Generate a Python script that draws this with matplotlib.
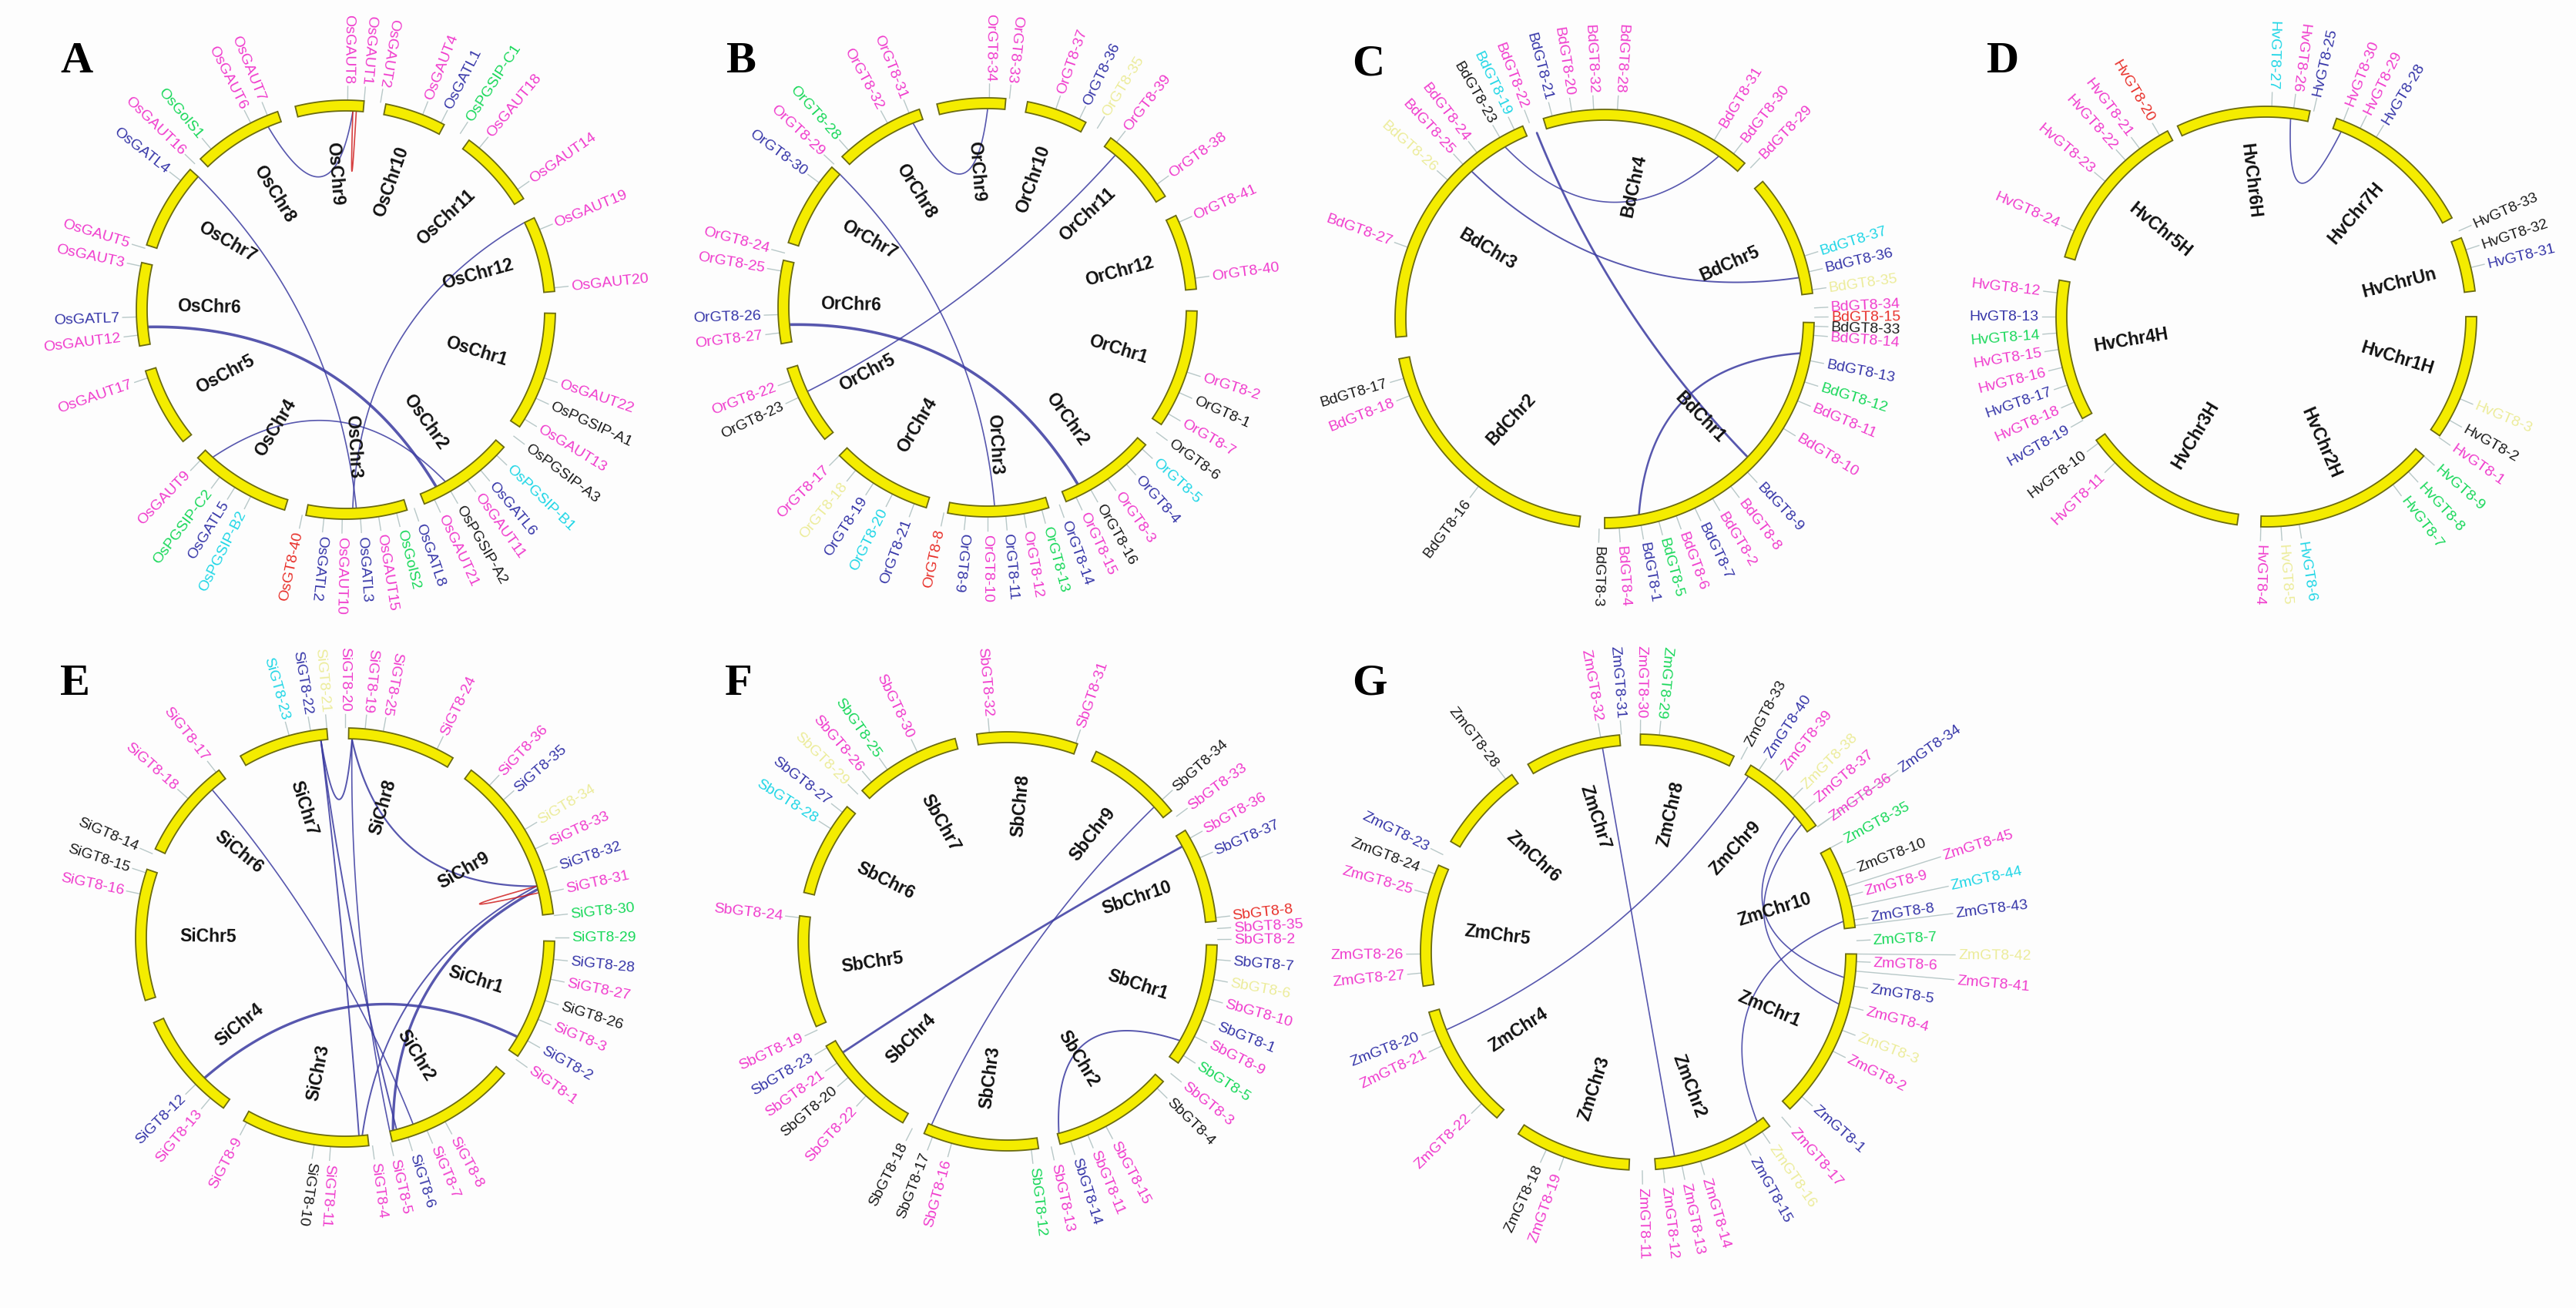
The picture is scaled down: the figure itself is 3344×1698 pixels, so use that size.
import numpy as np
import matplotlib.pyplot as plt

# colours of the gene groups
COL = {'p': '#f03ccd', 'b': '#3535a8', 'g': '#19d85a', 'c': '#1fd6e6',
       'k': '#1a1a1a', 'r': '#e8302a', 'y': '#ecec9a'}

# ---------------- A: rice (Os) ----------------
A_chroms = [('OsChr9', -14, 5), ('OsChr10', 11, 28), ('OsChr11', 36, 58), ('OsChr12', 64, 85),
            ('OsChr1', 91, 124), ('OsChr2', 131, 158), ('OsChr3', 163, 191), ('OsChr4', 197, 225),
            ('OsChr5', 231, 253), ('OsChr6', 260, 283), ('OsChr7', 288, 312), ('OsChr8', 316, 341)]
A_genes = [('OsGAUT8', 0.5, 'p'), ('OsGAUT1', 5, 'p'), ('OsGAUT2', 9.5, 'p'), ('OsGAUT4', 21.5, 'p'),
           ('OsGATL1', 27, 'b'), ('OsPGSIP-C1', 33, 'g'), ('OsGAUT18', 39.5, 'p'), ('OsGAUT14', 55, 'p'),
           ('OsGAUT19', 67.5, 'p'), ('OsGAUT20', 84, 'p'), ('OsGAUT22', 109, 'p'), ('OsPGSIP-A1', 115, 'k'),
           ('OsGAUT13', 121.5, 'p'), ('OsPGSIP-A3', 127, 'k'), ('OsPGSIP-B1', 134, 'c'), ('OsGATL6', 140, 'b'),
           ('OsGAUT11', 144.5, 'p'), ('OsPGSIP-A2', 150, 'k'), ('OsGAUT21', 155, 'p'), ('OsGATL8', 161, 'b'),
           ('OsGolS2', 166, 'g'), ('OsGAUT15', 171, 'p'), ('OsGATL3', 176, 'b'), ('OsGAUT10', 181, 'p'),
           ('OsGATL2', 186, 'b'), ('OsGT8-40', 192, 'r'), ('OsPGSIP-B2', 207, 'c'), ('OsGATL5', 212, 'b'),
           ('OsPGSIP-C2', 217, 'g'), ('OsGAUT9', 224, 'p'), ('OsGAUT17', 251, 'p'), ('OsGAUT12', 263, 'p'),
           ('OsGATL7', 268, 'b'), ('OsGAUT3', 282, 'p'), ('OsGAUT5', 287, 'p'), ('OsGATL4', 308, 'b'),
           ('OsGAUT16', 314, 'p'), ('OsGolS1', 320, 'g'), ('OsGAUT6', 333, 'p'), ('OsGAUT7', 338, 'p')]
A_links = [(337, 2, 'b', 1.2), (2, 3, 'r', 1.2), (312, 177, 'b', 1.2), (265, 153, 'b', 2.6),
           (64, 178, 'b', 1.2), (222, 150, 'b', 1.2)]

# ---------------- B: Or ----------------
B_chroms = [('OrChr9', -14, 5), ('OrChr10', 11, 28), ('OrChr11', 36, 58), ('OrChr12', 64, 85),
            ('OrChr1', 91, 124), ('OrChr2', 131, 158), ('OrChr3', 163, 191), ('OrChr4', 197, 225),
            ('OrChr5', 231, 253), ('OrChr6', 260, 283), ('OrChr7', 288, 312), ('OrChr8', 316, 341)]
B_genes = [('OrGT8-34', 0.5, 'p'), ('OrGT8-33', 6, 'p'), ('OrGT8-37', 19, 'p'), ('OrGT8-36', 26, 'b'),
           ('OrGT8-35', 31.5, 'y'), ('OrGT8-39', 38, 'p'), ('OrGT8-38', 54, 'p'), ('OrGT8-41', 66, 'p'),
           ('OrGT8-40', 82, 'p'), ('OrGT8-2', 108, 'p'), ('OrGT8-1', 114, 'k'), ('OrGT8-7', 120.5, 'p'),
           ('OrGT8-6', 126.5, 'k'), ('OrGT8-5', 132.5, 'c'), ('OrGT8-4', 138.5, 'b'), ('OrGT8-3', 145, 'p'),
           ('OrGT8-16', 150.5, 'k'), ('OrGT8-15', 155, 'p'), ('OrGT8-14', 160, 'b'), ('OrGT8-13', 165, 'g'),
           ('OrGT8-12', 170, 'p'), ('OrGT8-11', 175, 'b'), ('OrGT8-10', 180, 'p'), ('OrGT8-9', 186, 'b'),
           ('OrGT8-8', 192, 'r'), ('OrGT8-21', 200.5, 'b'), ('OrGT8-20', 207, 'c'), ('OrGT8-19', 213, 'b'),
           ('OrGT8-18', 219, 'y'), ('OrGT8-17', 225, 'p'), ('OrGT8-23', 244.5, 'k'), ('OrGT8-22', 249.5, 'p'),
           ('OrGT8-27', 263, 'p'), ('OrGT8-26', 268, 'b'), ('OrGT8-25', 280, 'p'), ('OrGT8-24', 285, 'p'),
           ('OrGT8-30', 306.5, 'b'), ('OrGT8-29', 313, 'p'), ('OrGT8-28', 318.5, 'g'), ('OrGT8-32', 331.5, 'p'),
           ('OrGT8-31', 338, 'p')]
B_links = [(338, 0, 'b', 1.2), (312, 178, 'b', 1.2), (265, 153, 'b', 2.6), (40, 245, 'b', 1.2)]

# ---------------- C: Bd ----------------
C_chroms = [('BdChr4', -17, 42), ('BdChr5', 49, 83), ('BdChr1', 91, 180), ('BdChr2', 187, 259),
            ('BdChr3', 265, 337)]
C_genes = [('BdGT8-26', 311.5, 'y'), ('BdGT8-25', 317.5, 'p'), ('BdGT8-24', 322.5, 'p'), ('BdGT8-23', 330, 'k'),
           ('BdGT8-19', 334.5, 'c'), ('BdGT8-22', 339, 'p'), ('BdGT8-21', 345.5, 'b'), ('BdGT8-20', 351, 'p'),
           ('BdGT8-32', 357, 'p'), ('BdGT8-28', 3.5, 'p'), ('BdGT8-31', 31.5, 'p'), ('BdGT8-30', 38, 'p'),
           ('BdGT8-29', 44, 'p'), ('BdGT8-37', 72.5, 'c'), ('BdGT8-36', 77, 'b'), ('BdGT8-35', 82, 'y'),
           ('BdGT8-34', 87, 'p'), ('BdGT8-15', 89.5, 'r'), ('BdGT8-33', 92, 'k'), ('BdGT8-14', 94.5, 'p'),
           ('BdGT8-13', 101.5, 'b'), ('BdGT8-12', 107.5, 'g'), ('BdGT8-11', 113, 'p'), ('BdGT8-10', 121.5, 'p'),
           ('BdGT8-9', 137, 'b'), ('BdGT8-8', 143, 'p'), ('BdGT8-2', 149, 'p'), ('BdGT8-7', 154.5, 'b'),
           ('BdGT8-6', 160, 'p'), ('BdGT8-5', 165, 'g'), ('BdGT8-1', 170, 'b'), ('BdGT8-4', 176, 'p'),
           ('BdGT8-3', 181.5, 'k'), ('BdGT8-16', 217, 'k'), ('BdGT8-18', 248.5, 'p'), ('BdGT8-17', 253.5, 'k'),
           ('BdGT8-27', 290, 'p')]
C_links = [(340, 134, 'b', 2.0), (330, 35, 'b', 1.2), (318, 78, 'b', 1.4), (100, 170, 'b', 1.8)]

# ---------------- D: Hv ----------------
D_chroms = [('HvChr6H', -25, 12), ('HvChr7H', 19.5, 62), ('HvChrUn', 68, 83), ('HvChr1H', 90, 124.5),
            ('HvChr2H', 131.5, 181.5), ('HvChr3H', 188, 234), ('HvChr4H', 241, 280), ('HvChr5H', 286.5, 332)]
D_genes = [('HvGT8-27', 1.5, 'c'), ('HvGT8-26', 7.5, 'p'), ('HvGT8-25', 13, 'b'), ('HvGT8-30', 21.5, 'p'),
           ('HvGT8-29', 26.5, 'p'), ('HvGT8-28', 31.5, 'b'), ('HvGT8-33', 66, 'k'), ('HvGT8-32', 71.5, 'k'),
           ('HvGT8-31', 76.5, 'b'), ('HvGT8-3', 113, 'y'), ('HvGT8-2', 119.5, 'k'), ('HvGT8-1', 125, 'p'),
           ('HvGT8-9', 131.5, 'g'), ('HvGT8-8', 137.5, 'g'), ('HvGT8-7', 143, 'g'), ('HvGT8-6', 171, 'c'),
           ('HvGT8-5', 176, 'y'), ('HvGT8-4', 181.5, 'p'), ('HvGT8-11', 226, 'p'), ('HvGT8-10', 233, 'k'),
           ('HvGT8-19', 240.5, 'b'), ('HvGT8-18', 246, 'p'), ('HvGT8-17', 251, 'b'), ('HvGT8-16', 256, 'p'),
           ('HvGT8-15', 261, 'p'), ('HvGT8-14', 265.5, 'g'), ('HvGT8-13', 270, 'b'), ('HvGT8-12', 276.5, 'p'),
           ('HvGT8-24', 294, 'p'), ('HvGT8-23', 310, 'p'), ('HvGT8-22', 318, 'p'), ('HvGT8-21', 323, 'p'),
           ('HvGT8-20', 329.5, 'r')]
D_links = [(7, 22, 'b', 1.2)]

# ---------------- E: Si ----------------
E_chroms = [('SiChr7', 330, 355), ('SiChr8', 1, 31), ('SiChr9', 37, 83.5), ('SiChr1', 91, 124.5),
            ('SiChr2', 130.5, 167), ('SiChr3', 173.5, 209), ('SiChr4', 215.5, 246), ('SiChr5', 252.5, 289),
            ('SiChr6', 295, 323)]
E_genes = [('SiGT8-23', 344.5, 'c'), ('SiGT8-22', 350.5, 'b'), ('SiGT8-21', 355, 'y'), ('SiGT8-20', 0, 'p'),
           ('SiGT8-19', 5.5, 'p'), ('SiGT8-25', 10.5, 'p'), ('SiGT8-24', 26, 'p'), ('SiGT8-36', 43.5, 'p'),
           ('SiGT8-35', 49, 'b'), ('SiGT8-34', 59, 'y'), ('SiGT8-33', 65, 'p'), ('SiGT8-32', 71.5, 'b'),
           ('SiGT8-31', 77.5, 'p'), ('SiGT8-30', 84, 'g'), ('SiGT8-29', 90, 'g'), ('SiGT8-28', 96, 'b'),
           ('SiGT8-27', 101.5, 'p'), ('SiGT8-26', 107.5, 'k'), ('SiGT8-3', 113, 'p'), ('SiGT8-2', 119.5, 'b'),
           ('SiGT8-1', 125.5, 'p'), ('SiGT8-8', 151.5, 'p'), ('SiGT8-7', 157, 'p'), ('SiGT8-6', 162.5, 'b'),
           ('SiGT8-5', 167.5, 'p'), ('SiGT8-4', 172.5, 'p'), ('SiGT8-11', 184, 'p'), ('SiGT8-10', 188.5, 'k'),
           ('SiGT8-9', 208, 'p'), ('SiGT8-13', 220, 'p'), ('SiGT8-12', 225.5, 'b'), ('SiGT8-16', 282, 'p'),
           ('SiGT8-15', 288, 'k'), ('SiGT8-14', 293.5, 'k'), ('SiGT8-18', 311.5, 'p'), ('SiGT8-17', 322, 'p')]
E_links = [(318, 160, 'b', 1.2), (353, 176, 'b', 1.4), (353, 165, 'b', 1.4), (353, 2, 'b', 1.4),
           (2, 75, 'b', 1.6), (2, 167, 'b', 1.2), (75, 175, 'b', 1.4), (76, 166, 'b', 2.4),
           (225, 120, 'b', 2.4), (75, 77, 'r', 1.2)]

# ---------------- F: Sb ----------------
F_chroms = [('SbChr7', 316, 345.5), ('SbChr8', 351.5, 379.5), ('SbChr9', 25, 51.5), ('SbChr10', 58, 84.5),
            ('SbChr1', 91, 125.5), ('SbChr2', 132, 165.5), ('SbChr3', 171.5, 203.5), ('SbChr4', 210, 240),
            ('SbChr5', 246, 277), ('SbChr6', 283.5, 310)]
F_genes = [('SbGT8-28', 302.5, 'c'), ('SbGT8-27', 308, 'b'), ('SbGT8-29', 314.5, 'y'), ('SbGT8-26', 319.5, 'p'),
           ('SbGT8-25', 325, 'g'), ('SbGT8-30', 334.5, 'p'), ('SbGT8-32', 355, 'p'), ('SbGT8-31', 19, 'p'),
           ('SbGT8-34', 47.5, 'k'), ('SbGT8-33', 53.5, 'p'), ('SbGT8-36', 60.5, 'p'), ('SbGT8-37', 66.5, 'b'),
           ('SbGT8-8', 83.5, 'r'), ('SbGT8-35', 86.5, 'p'), ('SbGT8-2', 89.5, 'p'), ('SbGT8-7', 95, 'b'),
           ('SbGT8-6', 100.5, 'y'), ('SbGT8-10', 106, 'p'), ('SbGT8-1', 112, 'b'), ('SbGT8-9', 117, 'p'),
           ('SbGT8-5', 123, 'g'), ('SbGT8-3', 129, 'p'), ('SbGT8-4', 134.5, 'k'), ('SbGT8-15', 152, 'p'),
           ('SbGT8-11', 157.5, 'p'), ('SbGT8-14', 162.5, 'b'), ('SbGT8-13', 168, 'p'), ('SbGT8-12', 173.5, 'g'),
           ('SbGT8-16', 195.5, 'p'), ('SbGT8-17', 201, 'k'), ('SbGT8-18', 207, 'k'), ('SbGT8-22', 222.5, 'p'),
           ('SbGT8-20', 229.5, 'k'), ('SbGT8-21', 234.5, 'p'), ('SbGT8-23', 239.5, 'b'), ('SbGT8-19', 245, 'p'),
           ('SbGT8-24', 276.5, 'p')]
F_links = [(61.5, 236, 'b', 2.0), (47.5, 202.5, 'b', 1.2), (120, 165, 'b', 1.4)]

# ---------------- G: Zm ----------------
G_chroms = [('ZmChr8', 0.5, 26), ('ZmChr9', 31, 54.5), ('ZmChr10', 61.5, 83.5), ('ZmChr1', 90.5, 136),
            ('ZmChr2', 143, 175.5), ('ZmChr3', 182.5, 213.5), ('ZmChr4', 220.5, 254), ('ZmChr5', 261, 293.5),
            ('ZmChr6', 300.5, 324.5), ('ZmChr7', 329.5, 355)]
G_genes = [('ZmGT8-32', 350, 'p', 0), ('ZmGT8-31', 355.5, 'b', 0), ('ZmGT8-30', 0.5, 'p', 0),
           ('ZmGT8-29', 5.5, 'g', 0), ('ZmGT8-33', 28, 'k', 0), ('ZmGT8-40', 33.5, 'b', 0),
           ('ZmGT8-39', 38.5, 'p', 0), ('ZmGT8-38', 45, 'y', 0), ('ZmGT8-37', 49.5, 'p', 0),
           ('ZmGT8-36', 55, 'p', 0), ('ZmGT8-34', 55, 'b', 1), ('ZmGT8-35', 61.5, 'g', 0),
           ('ZmGT8-10', 69, 'k', 0), ('ZmGT8-45', 72.5, 'p', 1), ('ZmGT8-9', 75, 'p', 0),
           ('ZmGT8-44', 78, 'c', 1), ('ZmGT8-8', 81.5, 'b', 0), ('ZmGT8-43', 83, 'b', 1),
           ('ZmGT8-7', 87, 'g', 0), ('ZmGT8-42', 90.5, 'y', 1), ('ZmGT8-6', 92.5, 'p', 0),
           ('ZmGT8-41', 95, 'p', 1), ('ZmGT8-5', 99, 'b', 0), ('ZmGT8-4', 104.5, 'p', 0),
           ('ZmGT8-3', 111, 'y', 0), ('ZmGT8-2', 117, 'p', 0), ('ZmGT8-1', 131.5, 'b', 0),
           ('ZmGT8-17', 139, 'p', 0), ('ZmGT8-16', 145.5, 'y', 0), ('ZmGT8-15', 151, 'b', 0),
           ('ZmGT8-14', 163.5, 'p', 0), ('ZmGT8-13', 168.5, 'p', 0), ('ZmGT8-12', 173.5, 'p', 0),
           ('ZmGT8-11', 179, 'p', 0), ('ZmGT8-19', 200, 'p', 0), ('ZmGT8-18', 205, 'k', 0),
           ('ZmGT8-22', 226, 'p', 0), ('ZmGT8-21', 244.5, 'p', 0), ('ZmGT8-20', 249, 'b', 0),
           ('ZmGT8-27', 264.5, 'p', 0), ('ZmGT8-26', 269.5, 'p', 0), ('ZmGT8-25', 285.5, 'p', 0),
           ('ZmGT8-24', 291, 'k', 0), ('ZmGT8-23', 296.5, 'b', 0), ('ZmGT8-28', 322.5, 'k', 0)]
G_links = [(350, 170, 'b', 1.2), (32, 248, 'b', 1.2), (49, 97, 'b', 1.2), (52, 104.5, 'b', 1.2),
           (81.5, 145, 'b', 1.2)]

# panel letter, centre (px), radius (px)
panels = [
    ('A', (449, 403), 265, (78, 80), A_chroms, A_genes, A_links),
    ('B', (1282, 400), 265, (942, 80), B_chroms, B_genes, B_links),
    ('C', (2083, 415), 265, (1755, 83), C_chroms, C_genes, C_links),
    ('D', (2942, 412), 266, (2579, 80), D_chroms, D_genes, D_links),
    ('E', (448, 1218), 265, (78, 888), E_chroms, E_genes, E_links),
    ('F', (1308, 1223), 265, (941, 888), F_chroms, F_genes, F_links),
    ('G', (2127, 1237), 276, (1755, 888), G_chroms, G_genes, G_links),
]

W, H = 3344, 1699
fig = plt.figure(figsize=(W / 100, H / 100), dpi=100)
ax = fig.add_axes([0, 0, 1, 1])
ax.set_xlim(0, W)
ax.set_ylim(H, 0)
ax.axis('off')
fig.patch.set_facecolor('#fdfdfd')


def pt(c, r, a):
    t = np.radians(a)
    return c[0] + r * np.sin(t), c[1] - r * np.cos(t)


def radial_text(c, r, a, s, color, size, weight='normal', center=False, lo=0, hi=180):
    a = a % 360
    th = 90 - a
    x, y = pt(c, r, a)
    if lo <= a < hi:
        rot, ha = th, 'left'
    else:
        rot, ha = th + 180, 'right'
    if center:
        ha = 'center'
    ax.text(x, y, s, color=color, fontsize=size, rotation=rot, ha=ha, va='center',
            rotation_mode='anchor', fontweight=weight, family=['Liberation Sans', 'DejaVu Sans'])


for letter, c, R, lp, chroms, genes, links in panels:
    ax.text(lp[0], lp[1], letter, fontsize=42, fontweight='bold', family='Liberation Serif',
            ha='left', va='center')
    # links first, under the ring
    for a1, a2, col, lw in links:
        p0 = np.array(pt(c, R - 8, a1))
        p2 = np.array(pt(c, R - 8, a2))
        d = abs((a2 - a1 + 180) % 360 - 180)
        k = 0.15 if d > 100 else 0.4
        p1 = np.array(c) * (1 - k) + (p0 + p2) / 2 * k
        t = np.linspace(0, 1, 80)[:, None]
        curve = (1 - t) ** 2 * p0 + 2 * (1 - t) * t * p1 + t ** 2 * p2
        ax.plot(curve[:, 0], curve[:, 1], color='#d02020' if col == 'r' else '#3a3aa0',
                lw=lw, alpha=0.85, zorder=2, solid_capstyle='round')
    # chromosome arcs
    for name, a0, a1 in chroms:
        aa = np.linspace(a0, a1, 60)
        xo, yo = pt(c, R + 7, aa)
        xi, yi = pt(c, R - 7, aa[::-1])
        ax.fill(np.r_[xo, xi], np.r_[yo, yi], facecolor='#f4ec00', edgecolor='#6b6b10', lw=1.3, zorder=3)
        radial_text(c, R * 0.67, (a0 + a1) / 2, name, '#111111', 16.5, weight='bold', center=True)
    # gene labels with little ticks
    for g in genes:
        name, a, cc = g[0], g[1], g[2]
        far = g[3] if len(g) > 3 else 0
        r0 = R + 9 + far * 110
        x0, y0 = pt(c, R + 8, a)
        x1, y1 = pt(c, r0 + 16, a)
        ax.plot([x0, x1], [y0, y1], color='#b8c8c8', lw=1.0, zorder=1)
        radial_text(c, r0 + 20, a, name, COL[cc], 14, lo=12, hi=191)

fig.savefig('out.png', dpi=100, facecolor=fig.get_facecolor())
